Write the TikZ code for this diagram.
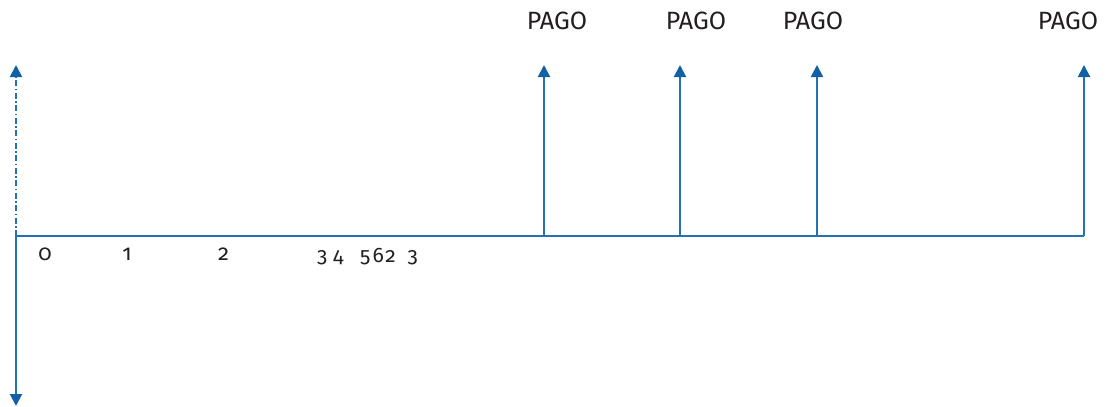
\documentclass[tikz,border=0pt]{standalone}
\usepackage{fontspec}
\setmainfont[Numbers=OldStyle]{Fira Sans}
\usetikzlibrary{arrows.meta}
\definecolor{axisblue}{RGB}{38,112,180}
\definecolor{tipblue}{RGB}{18,96,166}
\definecolor{txt}{RGB}{35,31,32}
\newcommand{\dg}[1]{\makebox[0pt][c]{#1}}
\tikzset{
  axisline/.style={draw=axisblue, line width=2pt},
  payarrow/.style={axisline, -{Triangle[width=12pt,length=12pt,fill=tipblue,color=tipblue]}},
  lbl/.style={text=txt, font=\fontsize{25}{28}\selectfont, anchor=base, inner sep=0pt},
  num/.style={text=txt, font=\fontsize{22}{26}\selectfont, anchor=base, inner sep=0pt},
  smallnum/.style={text=txt, font=\fontsize{21}{24}\selectfont, anchor=base west, inner sep=0pt},
}
\begin{document}
\begin{tikzpicture}[x=1pt,y=-1pt]
\useasboundingbox (0,0) rectangle (1106,407);
% axis points
\coordinate (o) at (16,236);
\coordinate (top) at (16,65);
\coordinate (bot) at (16,406);
\coordinate (e) at (1084,236);
\coordinate (b1) at (544,236);
\coordinate (b2) at (680,236);
\coordinate (b3) at (817,236);
\coordinate (t1) at (544,65);
\coordinate (t2) at (680,65);
\coordinate (t3) at (817,65);
\coordinate (t4) at (1084,65);
% main axis
\draw[axisline] (o) -- (e);
\draw[payarrow, dash pattern=on 6pt off 2.5pt on 1.5pt off 2.5pt] (o) -- (top);
\draw[payarrow] (o) -- (bot);
% payment arrows
\draw[payarrow] (b1) -- (t1);
\draw[payarrow] (b2) -- (t2);
\draw[payarrow] (b3) -- (t3);
\draw[payarrow] (e) -- (t4);
% labels
\node[lbl] (l1) at (557,29) {PAGO};
\node[lbl] (l2) at (696,29) {PAGO};
\node[lbl] (l3) at (813,29) {PAGO};
\node[lbl] (l4) at (1068,29) {PAGO};
\node[num] (n0) at (45,260) {0};
\node[num] (n1) at (127,260) {1};
\node[num] (n2) at (223.5,260) {2};
\node[smallnum] (n3) at (322,262) {\dg{3}\hspace{16pt}\dg{4}\hspace{27pt}\dg{5}\hspace{13pt}\dg{6}\hspace{12.5pt}\dg{2}\hspace{22pt}\dg{3}};
\end{tikzpicture}
\end{document}
